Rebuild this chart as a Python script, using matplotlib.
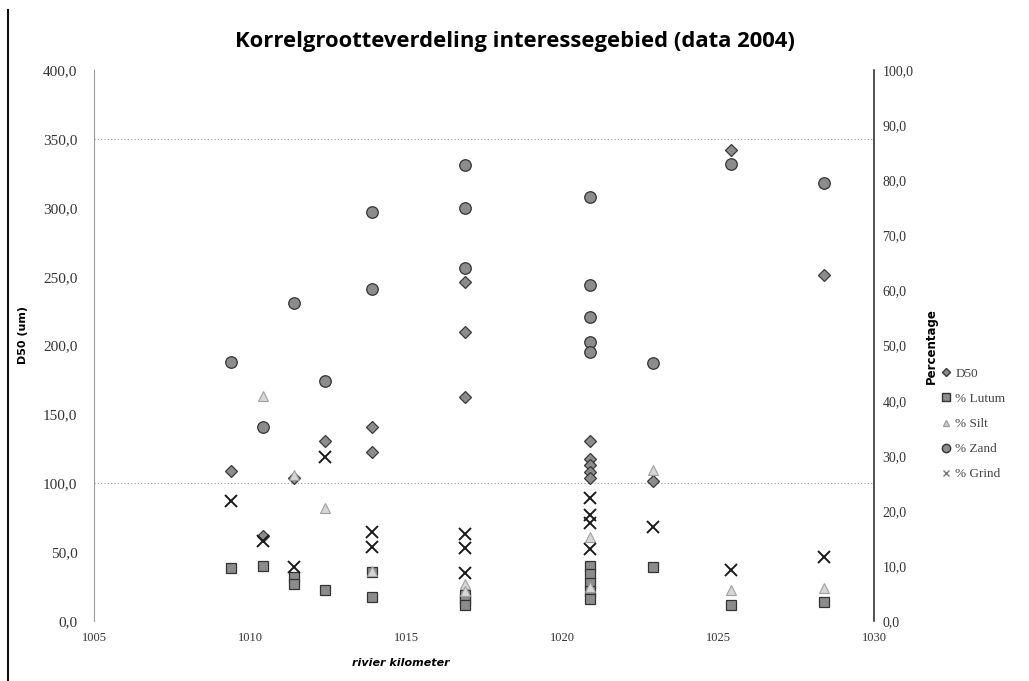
"""Korrelgrootteverdeling interessegebied (data 2004) - D50 and grain fractions per river km."""

import matplotlib
matplotlib.use("Agg")
import matplotlib.pyplot as plt
import matplotlib.ticker as ticker
from matplotlib.lines import Line2D

# D50 (um), left axis
d50_km = [1009.4, 1010.4, 1011.4, 1012.4, 1013.9, 1013.9, 1016.9, 1016.9, 1016.9,
          1020.9, 1020.9, 1020.9, 1020.9, 1020.9, 1022.9, 1025.4, 1028.4]
d50_val = [109, 62, 104, 131, 141, 123, 246, 210, 163,
           131, 118, 113, 108, 104, 102, 342, 251]

# percentages, right axis
lutum_km = [1009.4, 1010.4, 1011.4, 1011.4, 1012.4, 1013.9, 1013.9, 1016.9, 1016.9, 1016.9,
            1020.9, 1020.9, 1020.9, 1020.9, 1020.9, 1022.9, 1025.4, 1028.4]
lutum_val = [9.6, 10.0, 8.0, 6.8, 5.6, 8.9, 4.3, 4.8, 3.8, 3.0,
             10.0, 8.5, 7.0, 5.5, 4.0, 9.8, 2.9, 3.5]

silt_km = [1010.4, 1011.4, 1012.4, 1013.9, 1016.9, 1016.9, 1020.9, 1020.9, 1022.9, 1025.4, 1028.4]
silt_val = [40.8, 26.5, 20.5, 9.0, 6.8, 5.5, 15.2, 6.2, 27.5, 5.6, 6.0]

zand_km = [1009.4, 1010.4, 1011.4, 1012.4, 1013.9, 1013.9, 1016.9, 1016.9, 1016.9,
           1020.9, 1020.9, 1020.9, 1020.9, 1020.9, 1022.9, 1025.4, 1028.4]
zand_val = [47.0, 35.2, 57.7, 43.5, 74.2, 60.3, 82.7, 75.0, 64.0,
            77.0, 61.0, 55.2, 50.6, 48.8, 46.8, 82.9, 79.5]

grind_km = [1009.4, 1010.4, 1011.4, 1012.4, 1013.9, 1013.9, 1016.9, 1016.9, 1016.9,
            1020.9, 1020.9, 1020.9, 1020.9, 1022.9, 1025.4, 1028.4]
grind_val = [21.8, 14.5, 9.8, 29.8, 16.2, 13.4, 15.8, 13.2, 8.8,
             22.3, 19.2, 17.8, 13.0, 17.0, 9.2, 11.6]

TICK_FONT = "Liberation Serif"


def comma_fmt(v, pos):
    return f"{v:.1f}".replace(".", ",")


fig = plt.figure(figsize=(10.29, 6.81), dpi=100)
ax1 = fig.add_axes([0.0914, 0.088, 0.758, 0.809])
ax2 = ax1.twinx()

# faint dotted gridlines still visible in the scan
for g in (350, 100):
    ax1.axhline(g, color="#9a9a9a", linestyle=(0, (1, 2)), linewidth=0.8, zorder=0)

ax1.plot(d50_km, d50_val, linestyle="none", marker="D", markersize=6.3,
         markerfacecolor="#8c8c8c", markeredgecolor="#3a3a3a", markeredgewidth=0.9, zorder=4)
ax2.plot(lutum_km, lutum_val, linestyle="none", marker="s", markersize=7.5,
         markerfacecolor="#8c8c8c", markeredgecolor="#333333", markeredgewidth=0.9, zorder=3)
ax2.plot(silt_km, silt_val, linestyle="none", marker="^", markersize=7.5,
         markerfacecolor="#d6d6d6", markeredgecolor="#a0a0a0", markeredgewidth=0.8, zorder=3)
ax2.plot(zand_km, zand_val, linestyle="none", marker="o", markersize=8.3,
         markerfacecolor="#8c8c8c", markeredgecolor="#333333", markeredgewidth=0.9, zorder=3)
ax2.plot(grind_km, grind_val, linestyle="none", marker="x", markersize=8,
         markeredgecolor="#1a1a1a", markeredgewidth=1.4, zorder=3)

ax1.set_xlim(1005, 1030)
ax1.set_ylim(0, 400)
ax2.set_ylim(0, 100)
ax1.set_xticks([1005, 1010, 1015, 1020, 1025, 1030])
ax1.set_yticks(range(0, 401, 50))
ax2.set_yticks(range(0, 101, 10))
ax1.yaxis.set_major_formatter(ticker.FuncFormatter(comma_fmt))
ax2.yaxis.set_major_formatter(ticker.FuncFormatter(comma_fmt))

for ax in (ax1, ax2):
    ax.tick_params(length=0, colors="#333333")
    ax.spines["top"].set_visible(False)
    ax.spines["bottom"].set_visible(False)
    ax.set_facecolor("none")
ax1.tick_params(axis="x", labelsize=9, pad=8)
ax1.tick_params(axis="y", labelsize=11, pad=12)
ax2.tick_params(axis="y", labelsize=10, pad=6)
for lab in ax1.get_xticklabels() + ax1.get_yticklabels() + ax2.get_yticklabels():
    lab.set_fontfamily(TICK_FONT)
ax1.spines["left"].set_color("#9a9a9a")
ax1.spines["right"].set_visible(False)
ax2.spines["left"].set_visible(False)
ax2.spines["right"].set_color("#222222")
ax2.spines["right"].set_linewidth(1.1)

ax1.set_ylabel("D50 (um)", fontsize=8, fontweight="bold")
ax1.yaxis.set_label_coords(-0.085, 0.52)
ax2.set_ylabel("Percentage", fontsize=8.5, fontweight="bold", labelpad=8)
fig.text(0.39, 0.027, "rivier kilometer", fontsize=8, fontweight="bold",
         fontstyle="italic", ha="center", va="center")

fig.suptitle("Korrelgrootteverdeling interessegebied (data 2004)", x=0.5, y=0.955,
             fontsize=15.8, fontweight="bold", family="Open Sans")

handles = [
    Line2D([], [], linestyle="none", marker="D", markersize=4, markerfacecolor="#8c8c8c",
           markeredgecolor="#3a3a3a", label="D50"),
    Line2D([], [], linestyle="none", marker="s", markersize=6, markerfacecolor="#8c8c8c",
           markeredgecolor="#333333", label="% Lutum"),
    Line2D([], [], linestyle="none", marker="^", markersize=5, markerfacecolor="#d6d6d6",
           markeredgecolor="#a0a0a0", label="% Silt"),
    Line2D([], [], linestyle="none", marker="o", markersize=6, markerfacecolor="#8c8c8c",
           markeredgecolor="#333333", label="% Zand"),
    Line2D([], [], linestyle="none", marker="x", markersize=5, markeredgecolor="#777777",
           label="% Grind"),
]
leg = fig.legend(handles=handles, loc="upper left", bbox_to_anchor=(0.909, 0.468),
                 frameon=False, fontsize=9.5, handlelength=0.8, handletextpad=0.3,
                 labelspacing=0.98, borderaxespad=0)
for t in leg.get_texts():
    t.set_fontfamily(TICK_FONT)
    t.set_color("#444444")

# scan border line on the left
fig.add_artist(Line2D([0.008, 0.008], [0.0, 0.985], transform=fig.transFigure,
                      color="#111111", linewidth=1.5))

fig.savefig("out.png", dpi=100)
